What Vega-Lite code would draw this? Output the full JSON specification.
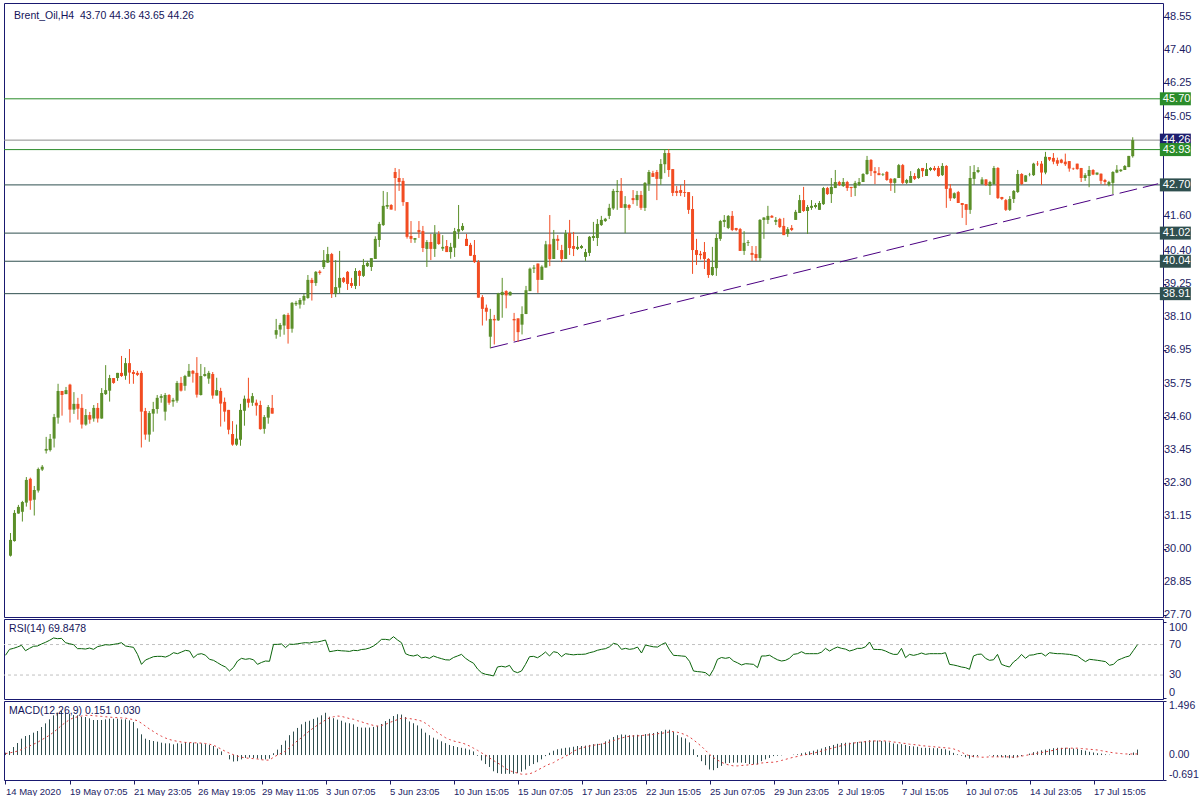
{
"$schema": "https://vega.github.io/schema/vega-lite/v6.json",
"padding": {"left": 2, "top": 2, "right": 0, "bottom": 0},
"background": "white",
"bounds": "flush",
"spacing": 2,
"config": {
  "view": {"stroke": "#191970", "strokeWidth": 1},
  "axis": {"labelFont": "Liberation Sans", "labelFontSize": 11, "labelColor": "#1c1c64", "tickColor": "#1c1c64", "domain": false, "grid": false, "title": null, "labelOverlap": false},
  "text": {"font": "Liberation Sans"}
},
"datasets": {
"one": [{}],
"bars": [
{"i":0,"o":29.78,"h":30.57,"l":29.75,"c":30.33,"r":55.9,"m":0.065,"s":0.04},
{"i":1,"o":30.29,"h":31.37,"l":30.27,"c":31.27,"r":63.7,"m":0.111,"s":0.06},
{"i":2,"o":31.25,"h":31.55,"l":31.24,"c":31.48,"r":65.0,"m":0.222,"s":0.08},
{"i":3,"o":31.31,"h":31.69,"l":30.97,"c":31.65,"r":66.8,"m":0.333,"s":0.11},
{"i":4,"o":31.63,"h":32.52,"l":31.49,"c":32.42,"r":69.0,"m":0.453,"s":0.15},
{"i":5,"o":32.46,"h":32.50,"l":31.38,"c":31.70,"r":61.9,"m":0.527,"s":0.20},
{"i":6,"o":31.73,"h":32.21,"l":31.18,"c":32.07,"r":65.0,"m":0.554,"s":0.25},
{"i":7,"o":32.05,"h":32.85,"l":31.98,"c":32.80,"r":67.7,"m":0.619,"s":0.30},
{"i":8,"o":32.78,"h":32.94,"l":32.73,"c":32.88,"r":68.1,"m":0.665,"s":0.35},
{"i":9,"o":33.44,"h":33.92,"l":33.34,"c":33.50,"r":70.7,"m":0.776,"s":0.42},
{"i":10,"o":33.46,"h":34.02,"l":33.41,"c":33.85,"r":72.9,"m":0.877,"s":0.48},
{"i":11,"o":33.86,"h":34.72,"l":33.55,"c":34.61,"r":75.5,"m":0.988,"s":0.55},
{"i":12,"o":34.59,"h":35.77,"l":34.38,"c":35.52,"r":78.6,"m":1.099,"s":0.63},
{"i":13,"o":35.52,"h":35.52,"l":34.66,"c":35.38,"r":77.7,"m":1.173,"s":0.72},
{"i":14,"o":35.41,"h":35.66,"l":35.41,"c":35.55,"r":78.1,"m":1.219,"s":0.82},
{"i":15,"o":35.74,"h":35.77,"l":34.42,"c":34.87,"r":72.4,"m":1.173,"s":0.90},
{"i":16,"o":34.87,"h":35.48,"l":34.72,"c":35.07,"r":71.1,"m":1.145,"s":0.98},
{"i":17,"o":35.07,"h":35.28,"l":34.52,"c":34.90,"r":69.8,"m":1.108,"s":1.03},
{"i":18,"o":34.93,"h":35.41,"l":34.21,"c":34.35,"r":64.6,"m":1.099,"s":1.06},
{"i":19,"o":34.35,"h":34.89,"l":34.31,"c":34.68,"r":64.6,"m":1.062,"s":1.08},
{"i":20,"o":34.68,"h":34.79,"l":34.38,"c":34.52,"r":64.1,"m":1.053,"s":1.10},
{"i":21,"o":34.56,"h":35.03,"l":34.45,"c":34.93,"r":65.4,"m":1.016,"s":1.10},
{"i":22,"o":34.93,"h":35.10,"l":34.42,"c":34.56,"r":63.7,"m":0.970,"s":1.09},
{"i":23,"o":34.56,"h":35.62,"l":34.55,"c":35.45,"r":67.2,"m":0.970,"s":1.08},
{"i":24,"o":35.41,"h":36.42,"l":35.38,"c":35.55,"r":68.5,"m":0.970,"s":1.07},
{"i":25,"o":35.53,"h":36.08,"l":35.15,"c":35.97,"r":69.8,"m":0.988,"s":1.06},
{"i":26,"o":35.97,"h":35.97,"l":35.77,"c":35.80,"r":69.4,"m":1.007,"s":1.05},
{"i":27,"o":35.97,"h":36.15,"l":35.87,"c":36.15,"r":70.2,"m":1.007,"s":1.04},
{"i":28,"o":36.15,"h":36.74,"l":36.01,"c":36.04,"r":71.1,"m":1.007,"s":1.035},
{"i":29,"o":36.05,"h":36.67,"l":35.91,"c":36.49,"r":72.4,"m":0.988,"s":1.03},
{"i":30,"o":36.49,"h":36.98,"l":35.77,"c":36.16,"r":68.1,"m":0.988,"s":1.02},
{"i":31,"o":36.18,"h":36.25,"l":35.77,"c":36.11,"r":67.2,"m":0.960,"s":1.00},
{"i":32,"o":36.15,"h":36.22,"l":36.04,"c":36.08,"r":66.3,"m":0.914,"s":0.98},
{"i":33,"o":36.15,"h":36.22,"l":33.55,"c":34.80,"r":57.1,"m":0.739,"s":0.95},
{"i":34,"o":34.82,"h":34.93,"l":33.82,"c":34.00,"r":44.0,"m":0.573,"s":0.88},
{"i":35,"o":34.00,"h":34.82,"l":33.75,"c":34.75,"r":49.7,"m":0.453,"s":0.80},
{"i":36,"o":34.73,"h":35.14,"l":34.10,"c":34.89,"r":51.9,"m":0.416,"s":0.72},
{"i":37,"o":34.89,"h":35.38,"l":34.73,"c":35.28,"r":54.1,"m":0.388,"s":0.65},
{"i":38,"o":35.28,"h":35.41,"l":35.11,"c":35.34,"r":54.5,"m":0.370,"s":0.58},
{"i":39,"o":34.80,"h":35.45,"l":34.49,"c":35.38,"r":54.5,"m":0.342,"s":0.52},
{"i":40,"o":35.38,"h":35.41,"l":35.04,"c":35.11,"r":53.6,"m":0.324,"s":0.47},
{"i":41,"o":35.15,"h":35.28,"l":34.97,"c":35.21,"r":55.8,"m":0.324,"s":0.43},
{"i":42,"o":35.18,"h":35.87,"l":35.11,"c":35.80,"r":59.3,"m":0.296,"s":0.40},
{"i":43,"o":35.80,"h":36.01,"l":35.50,"c":35.53,"r":58.0,"m":0.324,"s":0.38},
{"i":44,"o":35.70,"h":36.08,"l":35.53,"c":36.04,"r":60.2,"m":0.314,"s":0.36},
{"i":45,"o":36.02,"h":36.46,"l":36.02,"c":36.22,"r":62.4,"m":0.360,"s":0.35},
{"i":46,"o":36.22,"h":36.25,"l":35.81,"c":36.12,"r":61.5,"m":0.342,"s":0.345},
{"i":47,"o":36.15,"h":36.70,"l":35.29,"c":35.39,"r":52.7,"m":0.342,"s":0.34},
{"i":48,"o":35.38,"h":36.46,"l":35.36,"c":36.04,"r":57.1,"m":0.324,"s":0.335},
{"i":49,"o":36.04,"h":36.35,"l":36.02,"c":36.11,"r":58.0,"m":0.324,"s":0.33},
{"i":50,"o":35.95,"h":36.22,"l":35.77,"c":36.15,"r":56.0,"m":0.30,"s":0.32},
{"i":51,"o":36.11,"h":36.18,"l":35.25,"c":35.36,"r":50.6,"m":0.28,"s":0.30},
{"i":52,"o":35.36,"h":35.98,"l":35.36,"c":35.55,"r":49.3,"m":0.25,"s":0.27},
{"i":53,"o":35.52,"h":35.63,"l":34.28,"c":35.08,"r":46.2,"m":0.18,"s":0.22},
{"i":54,"o":35.14,"h":35.29,"l":34.45,"c":34.80,"r":43.0,"m":0.10,"s":0.16},
{"i":55,"o":34.86,"h":34.86,"l":34.01,"c":34.17,"r":40.5,"m":0.0,"s":0.10},
{"i":56,"o":34.02,"h":34.47,"l":33.61,"c":33.65,"r":35.3,"m":-0.12,"s":0.05},
{"i":57,"o":33.65,"h":34.35,"l":33.61,"c":33.86,"r":40.0,"m":-0.18,"s":0.01},
{"i":58,"o":33.82,"h":35.07,"l":33.61,"c":34.86,"r":48.4,"m":-0.17,"s":-0.03},
{"i":59,"o":34.83,"h":35.36,"l":34.31,"c":35.25,"r":51.9,"m":-0.12,"s":-0.06},
{"i":60,"o":35.25,"h":35.98,"l":34.94,"c":35.11,"r":50.6,"m":-0.08,"s":-0.08},
{"i":61,"o":35.11,"h":35.45,"l":35.00,"c":35.34,"r":51.5,"m":-0.07,"s":-0.09},
{"i":62,"o":35.11,"h":35.22,"l":34.66,"c":35.01,"r":50.0,"m":-0.08,"s":-0.10},
{"i":63,"o":35.03,"h":35.18,"l":34.17,"c":34.19,"r":44.0,"m":-0.10,"s":-0.11},
{"i":64,"o":34.20,"h":34.68,"l":34.03,"c":34.61,"r":46.5,"m":-0.12,"s":-0.13},
{"i":65,"o":34.59,"h":35.03,"l":34.38,"c":34.96,"r":48.4,"m":-0.12,"s":-0.14},
{"i":66,"o":34.93,"h":35.38,"l":34.73,"c":34.73,"r":48.0,"m":-0.10,"s":-0.14},
{"i":67,"o":37.48,"h":38.03,"l":37.34,"c":37.64,"r":70.2,"m":0.05,"s":-0.06},
{"i":68,"o":37.66,"h":37.89,"l":37.41,"c":37.82,"r":70.2,"m":0.15,"s":0.0},
{"i":69,"o":37.80,"h":38.20,"l":37.48,"c":38.17,"r":70.8,"m":0.28,"s":0.05},
{"i":70,"o":38.17,"h":38.24,"l":37.17,"c":37.68,"r":66.0,"m":0.40,"s":0.11},
{"i":71,"o":37.69,"h":38.62,"l":37.55,"c":38.59,"r":70.5,"m":0.55,"s":0.20},
{"i":72,"o":38.54,"h":38.66,"l":38.48,"c":38.59,"r":70.2,"m":0.65,"s":0.30},
{"i":73,"o":38.53,"h":38.76,"l":38.39,"c":38.69,"r":71.0,"m":0.75,"s":0.40},
{"i":74,"o":38.67,"h":38.90,"l":38.52,"c":38.83,"r":71.8,"m":0.85,"s":0.48},
{"i":75,"o":38.76,"h":39.56,"l":38.73,"c":39.39,"r":72.5,"m":0.92,"s":0.58},
{"i":76,"o":39.39,"h":39.46,"l":38.67,"c":39.28,"r":72.0,"m":0.95,"s":0.67},
{"i":77,"o":39.28,"h":39.70,"l":39.18,"c":39.67,"r":73.3,"m":1.0,"s":0.75},
{"i":78,"o":39.68,"h":39.73,"l":39.57,"c":39.63,"r":73.3,"m":1.04,"s":0.83},
{"i":79,"o":39.84,"h":40.43,"l":39.77,"c":40.08,"r":74.5,"m":1.10,"s":0.90},
{"i":80,"o":39.99,"h":40.54,"l":39.98,"c":40.29,"r":75.9,"m":1.17,"s":0.97},
{"i":81,"o":40.29,"h":40.33,"l":38.76,"c":38.90,"r":60.6,"m":1.06,"s":1.03},
{"i":82,"o":38.91,"h":40.08,"l":38.79,"c":39.14,"r":61.5,"m":1.02,"s":1.06},
{"i":83,"o":39.12,"h":40.40,"l":38.93,"c":39.46,"r":62.4,"m":0.98,"s":1.08},
{"i":84,"o":39.46,"h":39.49,"l":39.28,"c":39.32,"r":61.8,"m":0.95,"s":1.07},
{"i":85,"o":39.67,"h":39.70,"l":39.04,"c":39.25,"r":61.5,"m":0.90,"s":1.04},
{"i":86,"o":39.28,"h":39.46,"l":39.11,"c":39.18,"r":61.0,"m":0.88,"s":1.01},
{"i":87,"o":39.18,"h":39.80,"l":39.07,"c":39.70,"r":62.4,"m":0.85,"s":0.99},
{"i":88,"o":39.70,"h":39.73,"l":39.18,"c":39.53,"r":62.0,"m":0.78,"s":0.95},
{"i":89,"o":39.53,"h":40.12,"l":39.49,"c":39.91,"r":63.5,"m":0.76,"s":0.92},
{"i":90,"o":39.87,"h":40.05,"l":39.84,"c":39.98,"r":64.0,"m":0.76,"s":0.88},
{"i":91,"o":39.84,"h":40.15,"l":39.70,"c":40.15,"r":65.5,"m":0.76,"s":0.85},
{"i":92,"o":40.12,"h":40.91,"l":40.12,"c":40.82,"r":68.1,"m":0.78,"s":0.82},
{"i":93,"o":40.78,"h":41.41,"l":40.54,"c":41.34,"r":72.0,"m":0.81,"s":0.80},
{"i":94,"o":41.30,"h":42.49,"l":41.27,"c":41.97,"r":76.8,"m":0.86,"s":0.82},
{"i":95,"o":41.94,"h":42.45,"l":41.86,"c":42.00,"r":76.8,"m":0.94,"s":0.85},
{"i":96,"o":42.00,"h":42.03,"l":41.84,"c":41.84,"r":76.0,"m":1.0,"s":0.90},
{"i":97,"o":43.15,"h":43.29,"l":41.80,"c":42.94,"r":80.3,"m":1.08,"s":0.94},
{"i":98,"o":42.94,"h":43.25,"l":42.49,"c":42.80,"r":76.0,"m":1.13,"s":0.98},
{"i":99,"o":42.84,"h":42.94,"l":41.97,"c":42.10,"r":72.4,"m":1.12,"s":1.02},
{"i":100,"o":42.10,"h":42.10,"l":40.83,"c":40.89,"r":58.0,"m":1.05,"s":1.02},
{"i":101,"o":40.92,"h":41.44,"l":40.68,"c":40.82,"r":55.8,"m":0.93,"s":1.01},
{"i":102,"o":40.79,"h":40.85,"l":40.68,"c":40.85,"r":55.0,"m":0.88,"s":0.99},
{"i":103,"o":41.13,"h":41.44,"l":40.85,"c":41.05,"r":56.5,"m":0.82,"s":0.97},
{"i":104,"o":41.09,"h":41.27,"l":40.36,"c":40.50,"r":52.5,"m":0.73,"s":0.94},
{"i":105,"o":40.47,"h":40.78,"l":39.84,"c":40.71,"r":53.5,"m":0.62,"s":0.88},
{"i":106,"o":40.71,"h":40.99,"l":40.08,"c":40.47,"r":51.9,"m":0.55,"s":0.80},
{"i":107,"o":40.47,"h":41.30,"l":40.19,"c":40.99,"r":55.0,"m":0.48,"s":0.71},
{"i":108,"o":40.99,"h":41.09,"l":40.61,"c":40.64,"r":53.0,"m":0.43,"s":0.62},
{"i":109,"o":40.48,"h":40.95,"l":40.40,"c":40.54,"r":51.5,"m":0.38,"s":0.55},
{"i":110,"o":40.57,"h":40.78,"l":40.36,"c":40.36,"r":50.0,"m":0.33,"s":0.48},
{"i":111,"o":40.36,"h":40.68,"l":40.13,"c":40.54,"r":49.7,"m":0.28,"s":0.43},
{"i":112,"o":40.51,"h":41.20,"l":40.19,"c":41.09,"r":53.0,"m":0.25,"s":0.39},
{"i":113,"o":41.07,"h":42.00,"l":40.82,"c":41.16,"r":55.0,"m":0.22,"s":0.36},
{"i":114,"o":41.13,"h":41.37,"l":41.09,"c":41.27,"r":57.1,"m":0.20,"s":0.34},
{"i":115,"o":40.82,"h":40.99,"l":40.57,"c":40.57,"r":52.0,"m":0.18,"s":0.30},
{"i":116,"o":40.61,"h":40.68,"l":40.22,"c":40.23,"r":48.4,"m":0.15,"s":0.25},
{"i":117,"o":40.26,"h":40.78,"l":39.98,"c":40.01,"r":45.5,"m":0.10,"s":0.19},
{"i":118,"o":40.01,"h":40.08,"l":38.77,"c":38.77,"r":38.0,"m":-0.02,"s":0.13},
{"i":119,"o":38.79,"h":38.86,"l":37.80,"c":38.38,"r":33.0,"m":-0.15,"s":0.06},
{"i":120,"o":38.42,"h":38.53,"l":37.97,"c":38.28,"r":31.0,"m":-0.25,"s":0.0},
{"i":121,"o":37.41,"h":38.38,"l":37.01,"c":38.03,"r":30.1,"m":-0.33,"s":-0.08},
{"i":122,"o":38.03,"h":38.17,"l":37.14,"c":37.98,"r":28.8,"m":-0.45,"s":-0.15},
{"i":123,"o":37.98,"h":38.94,"l":37.96,"c":38.92,"r":40.6,"m":-0.50,"s":-0.22},
{"i":124,"o":38.86,"h":39.46,"l":38.07,"c":38.97,"r":41.5,"m":-0.52,"s":-0.28},
{"i":125,"o":39.00,"h":39.03,"l":38.40,"c":38.85,"r":40.5,"m":-0.52,"s":-0.37},
{"i":126,"o":38.85,"h":38.99,"l":38.84,"c":38.97,"r":42.7,"m":-0.52,"s":-0.43},
{"i":127,"o":38.03,"h":38.24,"l":37.26,"c":37.98,"r":35.0,"m":-0.52,"s":-0.47},
{"i":128,"o":38.05,"h":38.05,"l":37.23,"c":37.57,"r":33.1,"m":-0.50,"s":-0.50},
{"i":129,"o":37.83,"h":38.47,"l":37.49,"c":38.20,"r":35.3,"m":-0.46,"s":-0.53},
{"i":130,"o":38.20,"h":39.18,"l":38.20,"c":39.03,"r":44.0,"m":-0.40,"s":-0.53},
{"i":131,"o":39.00,"h":39.82,"l":39.00,"c":39.78,"r":54.1,"m":-0.30,"s":-0.52},
{"i":132,"o":39.78,"h":39.91,"l":39.63,"c":39.82,"r":54.5,"m":-0.25,"s":-0.48},
{"i":133,"o":39.96,"h":39.96,"l":38.94,"c":39.39,"r":52.7,"m":-0.20,"s":-0.42},
{"i":134,"o":39.39,"h":39.90,"l":39.39,"c":39.85,"r":56.0,"m":-0.12,"s":-0.36},
{"i":135,"o":39.82,"h":40.75,"l":39.82,"c":40.63,"r":60.2,"m":-0.03,"s":-0.30},
{"i":136,"o":40.63,"h":41.65,"l":39.87,"c":40.11,"r":55.0,"m":0.06,"s":-0.25},
{"i":137,"o":40.12,"h":41.13,"l":40.12,"c":40.82,"r":60.6,"m":0.12,"s":-0.21},
{"i":138,"o":40.82,"h":40.95,"l":40.43,"c":40.75,"r":59.5,"m":0.16,"s":-0.14},
{"i":139,"o":40.43,"h":40.61,"l":40.01,"c":40.12,"r":54.1,"m":0.18,"s":-0.09},
{"i":140,"o":40.12,"h":41.13,"l":40.12,"c":41.02,"r":58.0,"m":0.20,"s":-0.03},
{"i":141,"o":41.02,"h":41.48,"l":40.26,"c":40.50,"r":57.1,"m":0.21,"s":0.02},
{"i":142,"o":40.57,"h":41.06,"l":40.22,"c":40.47,"r":56.5,"m":0.23,"s":0.11},
{"i":143,"o":40.47,"h":40.92,"l":40.43,"c":40.54,"r":57.1,"m":0.25,"s":0.15},
{"i":144,"o":40.50,"h":40.61,"l":40.47,"c":40.57,"r":57.1,"m":0.25,"s":0.20},
{"i":145,"o":40.19,"h":40.47,"l":40.05,"c":40.36,"r":57.5,"m":0.26,"s":0.22},
{"i":146,"o":40.33,"h":40.92,"l":40.22,"c":40.89,"r":59.3,"m":0.28,"s":0.25},
{"i":147,"o":40.85,"h":41.41,"l":40.75,"c":40.92,"r":60.5,"m":0.30,"s":0.27},
{"i":148,"o":40.85,"h":41.51,"l":40.57,"c":41.34,"r":62.5,"m":0.31,"s":0.29},
{"i":149,"o":41.30,"h":41.62,"l":41.27,"c":41.48,"r":63.7,"m":0.32,"s":0.30},
{"i":150,"o":41.44,"h":41.55,"l":41.41,"c":41.52,"r":64.6,"m":0.38,"s":0.33},
{"i":151,"o":41.62,"h":42.04,"l":41.51,"c":41.90,"r":67.0,"m":0.43,"s":0.36},
{"i":152,"o":41.88,"h":42.56,"l":41.83,"c":42.49,"r":71.6,"m":0.50,"s":0.40},
{"i":153,"o":42.45,"h":42.87,"l":41.83,"c":42.49,"r":70.2,"m":0.55,"s":0.44},
{"i":154,"o":42.49,"h":42.94,"l":41.90,"c":41.90,"r":63.7,"m":0.57,"s":0.47},
{"i":155,"o":41.90,"h":42.31,"l":41.02,"c":42.03,"r":65.0,"m":0.56,"s":0.50},
{"i":156,"o":42.00,"h":42.03,"l":41.83,"c":41.90,"r":63.7,"m":0.55,"s":0.52},
{"i":157,"o":42.24,"h":42.52,"l":42.03,"c":42.17,"r":64.5,"m":0.55,"s":0.53},
{"i":158,"o":42.17,"h":42.49,"l":41.97,"c":42.35,"r":66.7,"m":0.56,"s":0.53},
{"i":159,"o":42.35,"h":42.49,"l":41.83,"c":41.90,"r":58.9,"m":0.55,"s":0.54},
{"i":160,"o":41.90,"h":42.80,"l":41.79,"c":42.77,"r":69.4,"m":0.58,"s":0.55},
{"i":161,"o":42.73,"h":43.22,"l":42.49,"c":43.15,"r":68.1,"m":0.60,"s":0.56},
{"i":162,"o":43.11,"h":43.19,"l":42.98,"c":42.98,"r":67.0,"m":0.61,"s":0.57},
{"i":163,"o":43.15,"h":43.22,"l":42.17,"c":42.91,"r":66.7,"m":0.64,"s":0.59},
{"i":164,"o":42.91,"h":43.60,"l":42.70,"c":43.43,"r":70.0,"m":0.66,"s":0.60},
{"i":165,"o":43.42,"h":43.95,"l":43.11,"c":43.81,"r":72.4,"m":0.70,"s":0.62},
{"i":166,"o":43.81,"h":43.95,"l":42.98,"c":43.22,"r":63.0,"m":0.70,"s":0.64},
{"i":167,"o":43.25,"h":43.25,"l":42.31,"c":42.42,"r":55.8,"m":0.64,"s":0.65},
{"i":168,"o":42.49,"h":42.66,"l":42.31,"c":42.42,"r":55.5,"m":0.55,"s":0.63},
{"i":169,"o":42.52,"h":42.70,"l":42.31,"c":42.42,"r":55.0,"m":0.49,"s":0.60},
{"i":170,"o":42.45,"h":42.87,"l":42.28,"c":42.42,"r":54.5,"m":0.46,"s":0.56},
{"i":171,"o":42.45,"h":42.45,"l":41.69,"c":41.83,"r":48.0,"m":0.35,"s":0.50},
{"i":172,"o":41.86,"h":42.31,"l":39.60,"c":40.43,"r":35.3,"m":0.16,"s":0.42},
{"i":173,"o":40.43,"h":40.82,"l":39.91,"c":40.26,"r":34.5,"m":-0.05,"s":0.33},
{"i":174,"o":40.30,"h":40.40,"l":40.10,"c":40.25,"r":34.0,"m":-0.17,"s":0.24},
{"i":175,"o":40.36,"h":40.71,"l":39.77,"c":40.12,"r":33.1,"m":-0.28,"s":0.13},
{"i":176,"o":40.12,"h":40.15,"l":39.46,"c":39.56,"r":28.8,"m":-0.40,"s":0.02},
{"i":177,"o":39.56,"h":40.54,"l":39.53,"c":39.84,"r":37.5,"m":-0.42,"s":-0.07},
{"i":178,"o":39.80,"h":40.99,"l":39.53,"c":40.85,"r":50.6,"m":-0.36,"s":-0.14},
{"i":179,"o":40.82,"h":41.48,"l":40.75,"c":41.44,"r":53.0,"m":-0.30,"s":-0.20},
{"i":180,"o":41.41,"h":41.65,"l":41.23,"c":41.48,"r":51.9,"m":-0.23,"s":-0.25},
{"i":181,"o":41.20,"h":41.65,"l":41.16,"c":41.62,"r":53.0,"m":-0.22,"s":-0.28},
{"i":182,"o":41.62,"h":41.79,"l":41.09,"c":41.13,"r":48.4,"m":-0.21,"s":-0.30},
{"i":183,"o":41.20,"h":41.20,"l":41.09,"c":41.13,"r":46.0,"m":-0.21,"s":-0.30},
{"i":184,"o":41.16,"h":41.20,"l":40.40,"c":40.40,"r":43.2,"m":-0.21,"s":-0.29},
{"i":185,"o":40.40,"h":41.09,"l":40.26,"c":40.68,"r":44.9,"m":-0.22,"s":-0.28},
{"i":186,"o":40.68,"h":40.78,"l":40.57,"c":40.71,"r":44.5,"m":-0.25,"s":-0.27},
{"i":187,"o":40.33,"h":40.57,"l":40.05,"c":40.26,"r":44.0,"m":-0.26,"s":-0.26},
{"i":188,"o":40.29,"h":40.57,"l":40.05,"c":40.15,"r":39.7,"m":-0.26,"s":-0.25},
{"i":189,"o":40.15,"h":41.51,"l":40.05,"c":41.48,"r":55.0,"m":-0.17,"s":-0.22},
{"i":190,"o":41.48,"h":41.58,"l":40.82,"c":41.56,"r":55.0,"m":-0.12,"s":-0.21},
{"i":191,"o":41.48,"h":41.97,"l":41.34,"c":41.62,"r":56.0,"m":-0.08,"s":-0.20},
{"i":192,"o":41.62,"h":41.65,"l":41.55,"c":41.56,"r":52.8,"m":-0.03,"s":-0.20},
{"i":193,"o":41.41,"h":41.58,"l":41.30,"c":41.48,"r":50.0,"m":-0.02,"s":-0.18},
{"i":194,"o":41.51,"h":41.55,"l":41.20,"c":41.23,"r":48.4,"m":-0.01,"s":-0.15},
{"i":195,"o":41.27,"h":41.55,"l":40.95,"c":40.95,"r":49.3,"m":0.0,"s":-0.12},
{"i":196,"o":40.99,"h":41.23,"l":40.89,"c":41.16,"r":52.0,"m":0.0,"s":-0.09},
{"i":197,"o":41.20,"h":41.30,"l":41.09,"c":41.13,"r":57.1,"m":0.01,"s":-0.06},
{"i":198,"o":41.48,"h":41.83,"l":41.48,"c":41.76,"r":58.0,"m":0.02,"s":-0.04},
{"i":199,"o":41.72,"h":42.35,"l":41.72,"c":42.17,"r":60.6,"m":0.05,"s":-0.01},
{"i":200,"o":42.17,"h":42.63,"l":41.76,"c":41.79,"r":58.0,"m":0.07,"s":0.01},
{"i":201,"o":41.79,"h":42.00,"l":40.99,"c":41.93,"r":58.0,"m":0.10,"s":0.03},
{"i":202,"o":41.90,"h":42.17,"l":41.83,"c":41.97,"r":58.0,"m":0.12,"s":0.05},
{"i":203,"o":41.93,"h":42.07,"l":41.88,"c":42.00,"r":58.0,"m":0.15,"s":0.08},
{"i":204,"o":41.83,"h":42.14,"l":41.83,"c":42.07,"r":60.0,"m":0.18,"s":0.11},
{"i":205,"o":42.03,"h":42.63,"l":42.00,"c":42.59,"r":65.0,"m":0.22,"s":0.14},
{"i":206,"o":42.59,"h":42.63,"l":42.35,"c":42.38,"r":61.5,"m":0.25,"s":0.17},
{"i":207,"o":42.38,"h":42.94,"l":42.07,"c":42.63,"r":64.5,"m":0.28,"s":0.20},
{"i":208,"o":42.59,"h":43.22,"l":42.59,"c":42.80,"r":66.7,"m":0.31,"s":0.23},
{"i":209,"o":42.80,"h":42.84,"l":42.66,"c":42.70,"r":65.0,"m":0.33,"s":0.26},
{"i":210,"o":42.66,"h":42.94,"l":42.63,"c":42.80,"r":64.0,"m":0.34,"s":0.29},
{"i":211,"o":42.80,"h":42.84,"l":42.49,"c":42.59,"r":61.5,"m":0.34,"s":0.31},
{"i":212,"o":42.63,"h":42.63,"l":42.28,"c":42.59,"r":63.0,"m":0.35,"s":0.33},
{"i":213,"o":42.59,"h":42.84,"l":42.31,"c":42.77,"r":65.0,"m":0.36,"s":0.35},
{"i":214,"o":42.70,"h":42.94,"l":42.66,"c":42.80,"r":65.0,"m":0.37,"s":0.36},
{"i":215,"o":42.80,"h":43.11,"l":42.80,"c":43.08,"r":67.0,"m":0.39,"s":0.37},
{"i":216,"o":43.08,"h":43.71,"l":43.05,"c":43.57,"r":73.3,"m":0.41,"s":0.38},
{"i":217,"o":43.57,"h":43.60,"l":43.01,"c":43.18,"r":63.7,"m":0.40,"s":0.39},
{"i":218,"o":43.18,"h":43.32,"l":42.73,"c":43.11,"r":63.5,"m":0.40,"s":0.39},
{"i":219,"o":43.11,"h":43.32,"l":43.04,"c":43.04,"r":63.3,"m":0.39,"s":0.39},
{"i":220,"o":43.06,"h":43.11,"l":43.01,"c":43.08,"r":61.5,"m":0.38,"s":0.39},
{"i":221,"o":43.15,"h":43.18,"l":42.84,"c":42.87,"r":59.0,"m":0.35,"s":0.38},
{"i":222,"o":42.91,"h":42.94,"l":42.49,"c":42.77,"r":57.1,"m":0.32,"s":0.36},
{"i":223,"o":42.77,"h":42.94,"l":42.42,"c":42.92,"r":57.1,"m":0.30,"s":0.35},
{"i":224,"o":42.94,"h":43.43,"l":42.94,"c":43.39,"r":65.0,"m":0.30,"s":0.33},
{"i":225,"o":43.39,"h":43.43,"l":42.73,"c":42.77,"r":52.8,"m":0.28,"s":0.32},
{"i":226,"o":42.77,"h":42.91,"l":42.73,"c":42.87,"r":57.1,"m":0.25,"s":0.30},
{"i":227,"o":42.77,"h":43.18,"l":42.77,"c":43.01,"r":55.8,"m":0.24,"s":0.29},
{"i":228,"o":43.01,"h":43.11,"l":42.87,"c":42.91,"r":57.0,"m":0.23,"s":0.28},
{"i":229,"o":42.94,"h":43.29,"l":42.91,"c":43.25,"r":58.9,"m":0.20,"s":0.26},
{"i":230,"o":43.29,"h":43.29,"l":42.98,"c":43.18,"r":57.1,"m":0.20,"s":0.25},
{"i":231,"o":43.01,"h":43.46,"l":43.01,"c":43.25,"r":58.0,"m":0.20,"s":0.24},
{"i":232,"o":43.22,"h":43.32,"l":43.18,"c":43.29,"r":58.0,"m":0.19,"s":0.23},
{"i":233,"o":43.29,"h":43.36,"l":43.18,"c":43.22,"r":58.0,"m":0.19,"s":0.22},
{"i":234,"o":43.29,"h":43.36,"l":42.98,"c":43.01,"r":58.0,"m":0.17,"s":0.21},
{"i":235,"o":43.04,"h":43.46,"l":43.01,"c":43.36,"r":59.3,"m":0.16,"s":0.20},
{"i":236,"o":43.36,"h":43.39,"l":41.90,"c":42.56,"r":44.0,"m":0.12,"s":0.19},
{"i":237,"o":42.58,"h":42.73,"l":42.14,"c":42.23,"r":43.2,"m":0.06,"s":0.17},
{"i":238,"o":42.24,"h":42.44,"l":42.21,"c":42.41,"r":42.0,"m":0.02,"s":0.13},
{"i":239,"o":42.45,"h":42.49,"l":42.07,"c":42.07,"r":40.5,"m":-0.02,"s":0.08},
{"i":240,"o":42.07,"h":42.07,"l":41.55,"c":42.00,"r":39.7,"m":-0.06,"s":0.02},
{"i":241,"o":42.03,"h":42.03,"l":41.30,"c":41.83,"r":37.5,"m":-0.10,"s":-0.02},
{"i":242,"o":41.83,"h":43.36,"l":41.69,"c":42.94,"r":55.0,"m":-0.06,"s":-0.04},
{"i":243,"o":42.91,"h":43.39,"l":42.70,"c":43.15,"r":57.1,"m":-0.03,"s":-0.05},
{"i":244,"o":43.15,"h":43.32,"l":43.11,"c":43.22,"r":57.5,"m":0.0,"s":-0.06},
{"i":245,"o":42.73,"h":42.97,"l":42.70,"c":42.89,"r":51.9,"m":0.0,"s":-0.06},
{"i":246,"o":42.89,"h":42.90,"l":42.66,"c":42.70,"r":49.3,"m":-0.01,"s":-0.05},
{"i":247,"o":42.66,"h":42.84,"l":42.35,"c":42.80,"r":50.0,"m":-0.04,"s":-0.05},
{"i":248,"o":42.73,"h":43.36,"l":42.70,"c":43.29,"r":57.1,"m":-0.05,"s":-0.05},
{"i":249,"o":43.29,"h":43.32,"l":42.21,"c":42.24,"r":44.0,"m":-0.06,"s":-0.05},
{"i":250,"o":42.28,"h":42.28,"l":42.17,"c":42.21,"r":42.0,"m":-0.07,"s":-0.05},
{"i":251,"o":42.17,"h":42.21,"l":41.79,"c":41.83,"r":40.5,"m":-0.09,"s":-0.05},
{"i":252,"o":41.83,"h":42.31,"l":41.79,"c":42.21,"r":47.1,"m":-0.08,"s":-0.06},
{"i":253,"o":42.21,"h":42.52,"l":42.07,"c":42.49,"r":51.0,"m":-0.06,"s":-0.05},
{"i":254,"o":42.45,"h":43.22,"l":42.42,"c":43.08,"r":57.0,"m":-0.03,"s":-0.03},
{"i":255,"o":43.08,"h":43.11,"l":42.70,"c":42.73,"r":52.0,"m":0.0,"s":-0.01},
{"i":256,"o":42.81,"h":43.04,"l":42.80,"c":43.03,"r":56.0,"m":0.04,"s":0.01},
{"i":257,"o":43.06,"h":43.12,"l":43.00,"c":43.07,"r":56.5,"m":0.08,"s":0.03},
{"i":258,"o":43.04,"h":43.47,"l":43.01,"c":43.44,"r":58.0,"m":0.10,"s":0.05},
{"i":259,"o":43.44,"h":43.53,"l":43.36,"c":43.42,"r":58.5,"m":0.13,"s":0.07},
{"i":260,"o":43.44,"h":43.53,"l":42.70,"c":43.13,"r":55.0,"m":0.15,"s":0.09},
{"i":261,"o":43.13,"h":43.85,"l":43.07,"c":43.68,"r":59.3,"m":0.17,"s":0.11},
{"i":262,"o":43.67,"h":43.67,"l":43.53,"c":43.58,"r":58.5,"m":0.19,"s":0.13},
{"i":263,"o":43.64,"h":43.81,"l":43.42,"c":43.51,"r":58.0,"m":0.20,"s":0.16},
{"i":264,"o":43.56,"h":43.65,"l":43.36,"c":43.44,"r":58.0,"m":0.20,"s":0.18},
{"i":265,"o":43.58,"h":43.61,"l":43.45,"c":43.47,"r":57.5,"m":0.20,"s":0.19},
{"i":266,"o":43.51,"h":43.79,"l":43.36,"c":43.42,"r":57.1,"m":0.19,"s":0.19},
{"i":267,"o":43.53,"h":43.53,"l":43.16,"c":43.27,"r":56.0,"m":0.18,"s":0.19},
{"i":268,"o":43.27,"h":43.30,"l":43.22,"c":43.25,"r":55.0,"m":0.17,"s":0.19},
{"i":269,"o":43.44,"h":43.44,"l":43.23,"c":43.25,"r":51.0,"m":0.14,"s":0.18},
{"i":270,"o":43.29,"h":43.29,"l":42.80,"c":42.94,"r":47.6,"m":0.12,"s":0.17},
{"i":271,"o":42.94,"h":43.11,"l":42.84,"c":43.04,"r":50.6,"m":0.09,"s":0.16},
{"i":272,"o":43.01,"h":43.36,"l":42.62,"c":43.22,"r":50.0,"m":0.07,"s":0.15},
{"i":273,"o":43.22,"h":43.25,"l":43.04,"c":43.06,"r":49.3,"m":0.05,"s":0.14},
{"i":274,"o":43.06,"h":43.13,"l":43.04,"c":43.13,"r":48.5,"m":0.04,"s":0.12},
{"i":275,"o":43.09,"h":43.10,"l":42.73,"c":42.84,"r":47.6,"m":0.02,"s":0.10},
{"i":276,"o":42.87,"h":42.91,"l":42.70,"c":42.80,"r":42.8,"m":0.01,"s":0.08},
{"i":277,"o":42.70,"h":42.84,"l":42.65,"c":42.80,"r":44.0,"m":0.0,"s":0.06},
{"i":278,"o":42.77,"h":43.18,"l":42.38,"c":43.15,"r":49.3,"m":0.0,"s":0.05},
{"i":279,"o":43.13,"h":43.39,"l":43.11,"c":43.23,"r":51.5,"m":0.0,"s":0.04},
{"i":280,"o":43.18,"h":43.25,"l":43.15,"c":43.23,"r":53.6,"m":0.0,"s":0.03},
{"i":281,"o":43.22,"h":43.39,"l":43.22,"c":43.36,"r":55.0,"m":0.03,"s":0.03},
{"i":282,"o":43.32,"h":43.71,"l":43.32,"c":43.71,"r":62.4,"m":0.07,"s":0.03},
{"i":283,"o":43.70,"h":44.36,"l":43.65,"c":44.26,"r":69.85,"m":0.151,"s":0.03}
],
"levels": [
{"p":45.70,"k":"g"},
{"p":44.26,"k":"n"},
{"p":43.93,"k":"g"},
{"p":42.70,"k":"d"},
{"p":41.02,"k":"d"},
{"p":40.04,"k":"d"},
{"p":38.91,"k":"d"}
],
"trend": [
{"i":121,"p":37.02},
{"i":289.4,"p":42.74}
],
"pticks": [
{"v":48.55},{"v":47.40},{"v":46.25},{"v":45.05},{"v":41.60},{"v":40.40},{"v":39.25},{"v":38.10},{"v":36.95},{"v":35.75},{"v":34.60},{"v":33.45},{"v":32.30},{"v":31.15},{"v":30.00},{"v":28.85},{"v":27.70}
]
},
"vconcat": [
{
"width": 1159, "height": 614,
"layer": [
{
"data": {"name": "levels"},
"mark": {"type": "rule", "strokeWidth": 1},
"encoding": {
"y": {"field": "p", "type": "quantitative", "scale": {"domain": [27.644, 49.038], "nice": false, "zero": false},
 "axis": {"orient": "right", "values": [48.55,47.40,46.25,45.05,43.90,42.75,41.60,40.40,39.25,38.10,36.95,35.75,34.60,33.45,32.30,31.15,30.00,28.85,27.70], "labels": false, "tickSize": 3}},
"color": {"condition": [{"test": "datum.k == 'g'", "value": "#2a8c2a"}, {"test": "datum.k == 'n'", "value": "#8c8c8c"}], "value": "#2f4f4f"}
}
},
{
"data": {"name": "trend"},
"mark": {"type": "line", "color": "#4b0082", "strokeWidth": 1, "strokeDash": [18, 6]},
"encoding": {
"x": {"field": "i", "type": "quantitative", "scale": {"domain": [-0.375, 289.375], "nice": false, "zero": false}, "axis": null},
"y": {"field": "p", "type": "quantitative"}
}
},
{
"data": {"name": "bars"},
"mark": {"type": "rule", "strokeWidth": 1},
"encoding": {
"x": {"field": "i", "type": "quantitative"},
"y": {"field": "l", "type": "quantitative"},
"y2": {"field": "h"},
"color": {"condition": {"test": "datum.c >= datum.o", "value": "#5b8f29"}, "value": "#f24c22"}
}
},
{
"data": {"name": "bars"},
"mark": {"type": "bar", "size": 3},
"encoding": {
"x": {"field": "i", "type": "quantitative"},
"y": {"field": "o", "type": "quantitative"},
"y2": {"field": "c"},
"color": {"condition": {"test": "datum.c >= datum.o", "value": "#5b8f29"}, "value": "#f24c22"}
}
},
{
"data": {"name": "pticks"},
"mark": {"type": "text", "align": "left", "baseline": "middle", "fontSize": 11, "color": "#1c1c64", "font": "Liberation Sans"},
"encoding": {
"x": {"datum": 290.875},
"y": {"field": "v", "type": "quantitative"},
"text": {"field": "v", "type": "quantitative", "format": ".2f"}
}
},
{
"data": {"name": "levels"},
"mark": {"type": "tick", "orient": "horizontal", "size": 31, "thickness": 13, "opacity": 1},
"encoding": {
"x": {"datum": 293.75},
"y": {"field": "p", "type": "quantitative"},
"color": {"condition": [{"test": "datum.k == 'g'", "value": "#2a8c2a"}, {"test": "datum.k == 'n'", "value": "#1e1e6e"}], "value": "#2f4f4f"}
}
},
{
"data": {"name": "levels"},
"mark": {"type": "text", "align": "left", "baseline": "middle", "fontSize": 11, "color": "white", "font": "Liberation Sans"},
"encoding": {
"x": {"datum": 290.6},
"y": {"field": "p", "type": "quantitative"},
"text": {"field": "p", "type": "quantitative", "format": ".2f"}
}
},
{
"data": {"name": "one"},
"mark": {"type": "text", "align": "left", "baseline": "middle", "fontSize": 10.5, "color": "#14145a", "font": "Liberation Sans"},
"encoding": {
"x": {"datum": 0.9},
"y": {"datum": 48.6},
"text": {"value": "Brent_Oil,H4\u00a0 43.70 44.36 43.65 44.26"}
}
}
]
},
{
"width": 1159, "height": 80,
"layer": [
{
"data": {"name": "one"},
"mark": {"type": "rule", "color": "#c0c0c0", "strokeWidth": 1, "strokeDash": [3, 3]},
"encoding": {"y": {"datum": 70, "type": "quantitative", "scale": {"domain": [-1.44, 103.5], "nice": false, "zero": false},
 "axis": {"orient": "right", "values": [0, 30, 70, 100], "labels": false, "tickSize": 3}}}
},
{
"data": {"name": "one"},
"mark": {"type": "rule", "color": "#c0c0c0", "strokeWidth": 1, "strokeDash": [3, 3]},
"encoding": {"y": {"datum": 30, "type": "quantitative"}}
},
{
"data": {"name": "bars"},
"mark": {"type": "line", "color": "#0a640a", "strokeWidth": 1},
"encoding": {
"x": {"field": "i", "type": "quantitative", "scale": {"domain": [-0.375, 289.375], "nice": false, "zero": false}, "axis": null},
"y": {"field": "r", "type": "quantitative"}
}
},
{
"data": {"name": "one"},
"mark": {"type": "text", "align": "left", "baseline": "top", "fontSize": 11, "color": "#1c1c64", "font": "Liberation Sans"},
"encoding": {"x": {"datum": 290.875}, "y": {"datum": 100}, "text": {"value": "100"}}
},
{
"data": {"name": "one"},
"mark": {"type": "text", "align": "left", "baseline": "middle", "fontSize": 11, "color": "#1c1c64", "font": "Liberation Sans"},
"encoding": {"x": {"datum": 290.875}, "y": {"datum": 70}, "text": {"value": "70"}}
},
{
"data": {"name": "one"},
"mark": {"type": "text", "align": "left", "baseline": "middle", "fontSize": 11, "color": "#1c1c64", "font": "Liberation Sans"},
"encoding": {"x": {"datum": 290.875}, "y": {"datum": 30}, "text": {"value": "30"}}
},
{
"data": {"name": "one"},
"mark": {"type": "text", "align": "left", "baseline": "bottom", "fontSize": 11, "color": "#1c1c64", "font": "Liberation Sans"},
"encoding": {"x": {"datum": 290.875}, "y": {"datum": 0}, "text": {"value": "0"}}
},
{
"data": {"name": "one"},
"mark": {"type": "text", "align": "left", "baseline": "middle", "fontSize": 10.5, "color": "#14145a", "font": "Liberation Sans"},
"encoding": {
"x": {"datum": 0.9},
"y": {"datum": 90.5},
"text": {"value": "RSI(14) 69.8478"}
}
}
]
},
{
"width": 1159, "height": 79,
"layer": [
{
"data": {"name": "bars"},
"mark": {"type": "rule", "color": "#2f4f4f", "strokeWidth": 1},
"encoding": {
"x": {"field": "i", "type": "quantitative", "scale": {"domain": [-0.375, 289.375], "nice": false, "zero": false},
 "axis": {"orient": "bottom", "values": [0,16,32,48,64,80,96,112,128,144,160,176,192,208,224,240,256,272], "labelExpr": "['14 May 2020','19 May 07:05','21 May 23:05','26 May 19:05','29 May 11:05','3 Jun 07:05','5 Jun 23:05','10 Jun 15:05','15 Jun 07:05','17 Jun 23:05','22 Jun 15:05','25 Jun 07:05','29 Jun 23:05','2 Jul 19:05','7 Jul 15:05','10 Jul 07:05','14 Jul 23:05','17 Jul 15:05'][round(datum.value/16)]", "labelAlign": "left", "labelFontSize": 9.5, "tickSize": 4, "labelPadding": 2, "labelFlush": false, "labelOverlap": false}},
"y": {"field": "m", "type": "quantitative", "scale": {"domain": [-0.691, 1.496], "nice": false, "zero": false},
 "axis": {"orient": "right", "values": [-0.691, 0, 1.496], "labels": false, "tickSize": 3}},
"y2": {"datum": 0}
}
},
{
"data": {"name": "bars"},
"mark": {"type": "line", "color": "#e04040", "strokeWidth": 1, "strokeDash": [2, 3]},
"encoding": {
"x": {"field": "i", "type": "quantitative"},
"y": {"field": "s", "type": "quantitative"}
}
},
{
"data": {"name": "one"},
"mark": {"type": "text", "align": "left", "baseline": "top", "fontSize": 10.5, "color": "#1c1c64", "font": "Liberation Sans"},
"encoding": {"x": {"datum": 290.875}, "y": {"datum": 1.496}, "text": {"value": "1.496"}}
},
{
"data": {"name": "one"},
"mark": {"type": "text", "align": "left", "baseline": "middle", "fontSize": 10.5, "color": "#1c1c64", "font": "Liberation Sans"},
"encoding": {"x": {"datum": 290.875}, "y": {"datum": 0}, "text": {"value": "0.00"}}
},
{
"data": {"name": "one"},
"mark": {"type": "text", "align": "left", "baseline": "bottom", "fontSize": 10.5, "color": "#1c1c64", "font": "Liberation Sans"},
"encoding": {"x": {"datum": 290.875}, "y": {"datum": -0.691}, "text": {"value": "-0.691"}}
},
{
"data": {"name": "one"},
"mark": {"type": "text", "align": "left", "baseline": "middle", "fontSize": 10.5, "color": "#14145a", "font": "Liberation Sans"},
"encoding": {
"x": {"datum": 0.9},
"y": {"datum": 1.22},
"text": {"value": "MACD(12,26,9) 0.151 0.030"}
}
}
]
}
]
}
